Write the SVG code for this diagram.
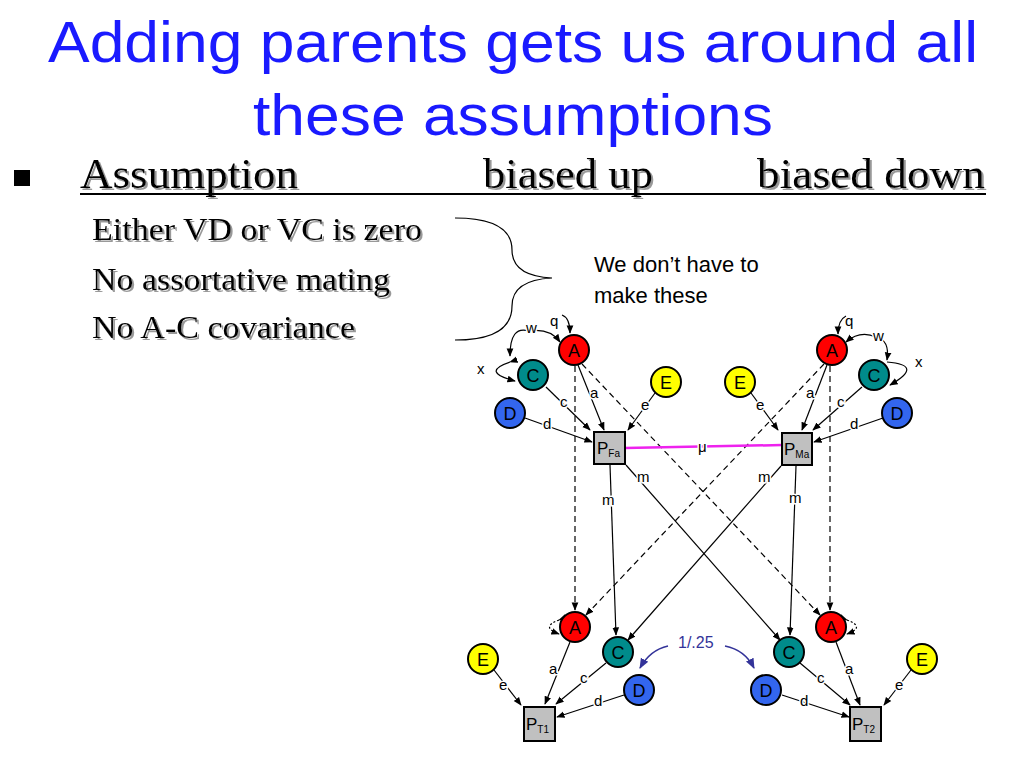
<svg xmlns="http://www.w3.org/2000/svg" width="1024" height="768" viewBox="0 0 1024 768">
<defs>
<marker id="ar" viewBox="0 0 10 10" refX="9" refY="5" markerWidth="7" markerHeight="7" orient="auto"><path d="M0,1 L10,5 L0,9 z" fill="#000"/></marker>
<marker id="arb" viewBox="0 0 10 10" refX="9" refY="5" markerWidth="7" markerHeight="7" orient="auto"><path d="M0,1 L10,5 L0,9 z" fill="#333399"/></marker>
<filter id="sh"><feDropShadow dx="2" dy="2" stdDeviation="0.5" flood-color="#999"/></filter>
</defs>
<style>
.t{font-family:"Liberation Sans",Arial,sans-serif;}
.s{font-family:"Liberation Serif","Times New Roman",serif;}
.l{font-family:"Liberation Sans",Arial,sans-serif;font-size:15px;}
.n{font-family:"Liberation Sans",Arial,sans-serif;font-size:18px;text-anchor:middle;}
circle{stroke:#000;stroke-width:2;}
.A{fill:#f00}.C{fill:#008b8b}.D{fill:#3366ee}.E{fill:#ff0}
.box{fill:#c0c0c0;stroke:#000;stroke-width:2}
.c line,.c path{stroke:#000;stroke-width:1.2;fill:none}
.dash{stroke-dasharray:6,4}
</style>
<rect width="1024" height="768" fill="#fff"/>
<g class="t" fill="#1a1aff" font-size="58">
<text x="48" y="62" textLength="930" lengthAdjust="spacingAndGlyphs">Adding parents gets us around all</text>
<text x="253" y="135" textLength="520" lengthAdjust="spacingAndGlyphs">these assumptions</text>
</g>
<rect x="14" y="170" width="16" height="16" fill="#000"/>
<g class="s" font-size="42" fill="#000" filter="url(#sh)">
<text x="80" y="188" textLength="218" lengthAdjust="spacingAndGlyphs">Assumption</text>
<text x="483" y="188" textLength="170" lengthAdjust="spacingAndGlyphs">biased up</text>
<text x="757" y="188" textLength="228" lengthAdjust="spacingAndGlyphs">biased down</text>
</g>
<line x1="80" y1="194" x2="986" y2="194" stroke="#000" stroke-width="2"/>
<g class="s" font-size="31" fill="#000" filter="url(#sh)">
<text x="92" y="240" textLength="330" lengthAdjust="spacingAndGlyphs">Either VD or VC is zero</text>
<text x="92" y="290" textLength="298" lengthAdjust="spacingAndGlyphs">No assortative mating</text>
<text x="92" y="338" textLength="263" lengthAdjust="spacingAndGlyphs">No A-C covariance</text>
</g>
<path d="M455,218 Q512,218 512,250 Q512,276 552,278 Q512,280 512,306 Q512,340 455,340" fill="none" stroke="#000" stroke-width="1.2"/>
<text class="t" font-size="22" x="594" y="272">We don’t have to</text>
<text class="t" font-size="22" x="594" y="303">make these</text>
<g class="c">
<line class="dash" x1="575" y1="366" x2="575" y2="610" marker-end="url(#ar)"/>
<line class="dash" x1="582" y1="364" x2="820" y2="615" marker-end="url(#ar)"/>
<line class="dash" x1="830" y1="366" x2="830" y2="610" marker-end="url(#ar)"/>
<line class="dash" x1="824" y1="364" x2="586" y2="615" marker-end="url(#ar)"/>
<line x1="578" y1="365" x2="604" y2="430" marker-end="url(#ar)"/>
<line x1="546" y1="387" x2="590" y2="430" marker-end="url(#ar)"/>
<line x1="525" y1="418" x2="592" y2="442" marker-end="url(#ar)"/>
<line x1="655" y1="393" x2="628" y2="430" marker-end="url(#ar)"/>
<line x1="827" y1="365" x2="802" y2="430" marker-end="url(#ar)"/>
<line x1="862" y1="387" x2="813" y2="430" marker-end="url(#ar)"/>
<line x1="883" y1="418" x2="814" y2="442" marker-end="url(#ar)"/>
<line x1="751" y1="393" x2="778" y2="430" marker-end="url(#ar)"/>
<line x1="625" y1="448" x2="782" y2="445" style="stroke:#ee22ee;stroke-width:2.5"/>
<line x1="610" y1="465" x2="616" y2="635" marker-end="url(#ar)"/>
<line x1="626" y1="465" x2="780" y2="640" marker-end="url(#ar)"/>
<line x1="796" y1="466" x2="790" y2="635" marker-end="url(#ar)"/>
<line x1="781" y1="466" x2="628" y2="640" marker-end="url(#ar)"/>
<path d="M562,315 Q570,318 570,333" marker-end="url(#ar)"/>
<path d="M529,331 Q510,325 510,356" marker-end="url(#ar)"/>
<path d="M529,331 Q550,328 560,342" marker-end="url(#ar)"/>
<path d="M510,362 Q480,372 515,381" marker-end="url(#ar)" marker-start="url(#ar)"/>
<path d="M846,316 Q838,320 838,334" marker-end="url(#ar)"/>
<path d="M876,337 Q860,330 846,342" marker-end="url(#ar)"/>
<path d="M876,337 Q890,340 887,360" marker-end="url(#ar)"/>
<path d="M887,362 Q925,365 890,385" marker-end="url(#ar)"/>
<path style="stroke-dasharray:2,2" d="M559,620 Q540,627 559,634" marker-end="url(#ar)" marker-start="url(#ar)"/>
<path style="stroke-dasharray:2,2" d="M847,620 Q866,627 847,634" marker-end="url(#ar)" marker-start="url(#ar)"/>
<line x1="570" y1="642" x2="545" y2="704" marker-end="url(#ar)"/>
<line x1="606" y1="663" x2="556" y2="704" marker-end="url(#ar)"/>
<line x1="624" y1="695" x2="557" y2="717" marker-end="url(#ar)"/>
<line x1="494" y1="670" x2="521" y2="705" marker-end="url(#ar)"/>
<line x1="836" y1="642" x2="860" y2="705" marker-end="url(#ar)"/>
<line x1="800" y1="663" x2="850" y2="705" marker-end="url(#ar)"/>
<line x1="782" y1="695" x2="849" y2="717" marker-end="url(#ar)"/>
<line x1="911" y1="670" x2="884" y2="705" marker-end="url(#ar)"/>
<path d="M668,646 Q650,650 640,668" style="stroke:#333399;stroke-width:1.5" marker-end="url(#arb)"/>
<path d="M725,646 Q745,650 754,668" style="stroke:#333399;stroke-width:1.5" marker-end="url(#arb)"/>
</g>
<g class="l" fill="#000" style="paint-order:stroke" stroke="#fff" stroke-width="3">
<text x="550" y="326">q</text><text x="526" y="333">w</text><text x="477" y="374">x</text>
<text x="590" y="398">a</text><text x="560" y="407">c</text><text x="543" y="429">d</text><text x="641" y="410">e</text>
<text x="845" y="326">q</text><text x="873" y="341">w</text><text x="915" y="367">x</text>
<text x="806" y="398">a</text><text x="837" y="407">c</text><text x="850" y="429">d</text><text x="756" y="410">e</text>
<text x="698" y="452">μ</text>
<text x="637" y="482">m</text><text x="602" y="505">m</text><text x="758" y="482">m</text><text x="789" y="503">m</text>
<text x="549" y="674">a</text><text x="580" y="683">c</text><text x="594" y="706">d</text><text x="499" y="690">e</text>
<text x="845" y="674">a</text><text x="817" y="683">c</text><text x="800" y="706">d</text><text x="895" y="690">e</text>
</g>
<text x="678" y="648" class="t" font-size="16" fill="#333399">1/.25</text>
<g id="A_fa"><circle class="A" cx="574" cy="350" r="15"/><text class="n" x="574" y="357">A</text></g>
<g id="C_fa"><circle class="C" cx="533" cy="375" r="15"/><text class="n" x="533" y="382">C</text></g>
<g id="D_fa"><circle class="D" cx="510" cy="413" r="15"/><text class="n" x="510" y="420">D</text></g>
<g id="E_fa"><circle class="E" cx="666" cy="382" r="15"/><text class="n" x="666" y="389">E</text></g>
<g id="A_ma"><circle class="A" cx="832" cy="350" r="15"/><text class="n" x="832" y="357">A</text></g>
<g id="C_ma"><circle class="C" cx="874" cy="375" r="15"/><text class="n" x="874" y="382">C</text></g>
<g id="D_ma"><circle class="D" cx="897" cy="413" r="15"/><text class="n" x="897" y="420">D</text></g>
<g id="E_ma"><circle class="E" cx="740" cy="382" r="15"/><text class="n" x="740" y="389">E</text></g>
<g id="P_fa"><rect class="box" x="594" y="432" width="31" height="32"/><text class="t" x="597" y="454" font-size="17">P<tspan font-size="10" dy="3">Fa</tspan></text></g>
<g id="P_ma"><rect class="box" x="782" y="433" width="30" height="32"/><text class="t" x="784" y="455" font-size="17">P<tspan font-size="10" dy="3">Ma</tspan></text></g>
<g id="A_t1"><circle class="A" cx="575" cy="627" r="15"/><text class="n" x="575" y="634">A</text></g>
<g id="C_t1"><circle class="C" cx="618" cy="652" r="15"/><text class="n" x="618" y="659">C</text></g>
<g id="D_t1"><circle class="D" cx="639" cy="690" r="15"/><text class="n" x="639" y="697">D</text></g>
<g id="E_t1"><circle class="E" cx="483" cy="659" r="15"/><text class="n" x="483" y="666">E</text></g>
<g id="A_t2"><circle class="A" cx="831" cy="627" r="15"/><text class="n" x="831" y="634">A</text></g>
<g id="C_t2"><circle class="C" cx="789" cy="652" r="15"/><text class="n" x="789" y="659">C</text></g>
<g id="D_t2"><circle class="D" cx="766" cy="690" r="15"/><text class="n" x="766" y="697">D</text></g>
<g id="E_t2"><circle class="E" cx="922" cy="659" r="15"/><text class="n" x="922" y="666">E</text></g>
<g id="P_t1"><rect class="box" x="524" y="707" width="31" height="34"/><text class="t" x="526" y="730" font-size="17">P<tspan font-size="10" dy="3">T1</tspan></text></g>
<g id="P_t2"><rect class="box" x="850" y="707" width="31" height="34"/><text class="t" x="852" y="730" font-size="17">P<tspan font-size="10" dy="3">T2</tspan></text></g>
</svg>
